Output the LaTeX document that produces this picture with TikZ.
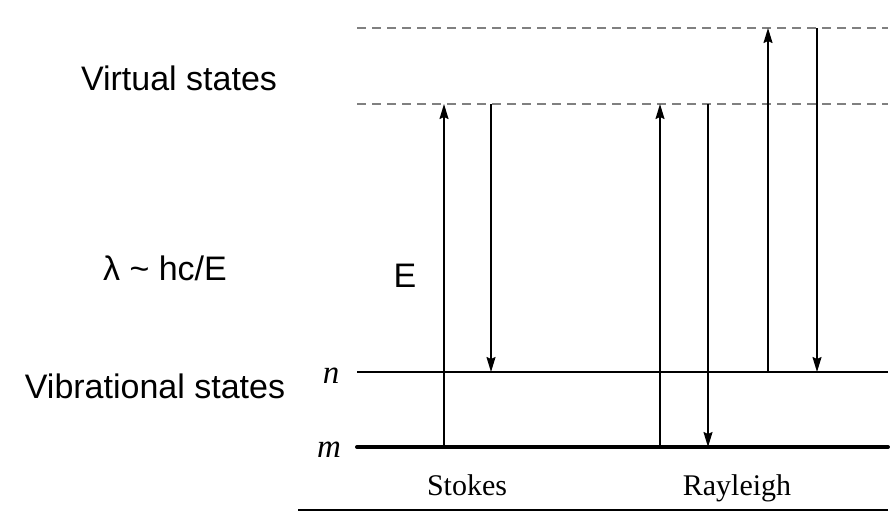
\documentclass[tikz,border=0pt]{standalone}
\usepackage{fontspec}
\setmainfont{Liberation Serif}
\newfontfamily\sansfont{Liberation Sans}
\usetikzlibrary{arrows.meta}

\begin{document}
\begin{tikzpicture}[x=1pt, y=-1pt, line join=round, >={Stealth[length=15pt,width=9pt,inset=2pt]},
	level/.style={line width=1.5pt},
	virtual/.style={line width=1.4pt, gray, dash pattern=on 9pt off 6pt},
	trans/.style={->, line width=1.5pt},
	bigtext/.style={font=\sansfont\fontsize{34}{40}\selectfont, anchor=base},
	smalltext/.style={font=\fontsize{30}{36}\selectfont, anchor=base}]
	\useasboundingbox (0,0) rectangle (890,512);
	\def\xl{357} \def\xr{888}
	\def\ym{447} \def\yn{372} \def\yva{104} \def\yvb{28}
	% levels
	\draw[virtual] (\xl,\yvb)--(\xr,\yvb) (\xl,\yva)--(\xr,\yva);
	\draw[level] (\xl,\yn)--(\xr,\yn);
	\draw[line width=4pt, line cap=round] (\xl,\ym)--(\xr,\ym);
	\draw[line width=1.5pt] (298,510)--(\xr,510);
	% transitions
	\foreach \nm/\x/\ya/\yb in {sup/444/\ym/\yva, sdn/491/\yva/\yn, rup/660/\ym/\yva, rdn/708/\yva/\ym, aup/768/\yn/\yvb, adn/817/\yvb/\yn}
	{
		\coordinate (\nm a) at (\x,\ya);
		\coordinate (\nm b) at (\x,\yb);
		\draw[trans] (\nm a)--(\nm b);
	}
	% labels
	\node[smalltext, font=\fontsize{33}{38}\selectfont\itshape] (n) at (331,383) {n};
	\node[smalltext, font=\fontsize{33}{38}\selectfont\itshape] (m) at (329,457) {m};
	\node[smalltext] (stokes) at (467,495) {Stokes};
	\node[smalltext] (rayleigh) at (737,495) {Rayleigh};
	\node[bigtext] (virt) at (179,90) {Virtual states};
	\node[bigtext] (lambda) at (165,280) {λ \textasciitilde{} hc/E};
	\node[bigtext] (E) at (405,287) {E};
	\node[bigtext] (vib) at (155,398) {Vibrational states};
\end{tikzpicture}
\end{document}
